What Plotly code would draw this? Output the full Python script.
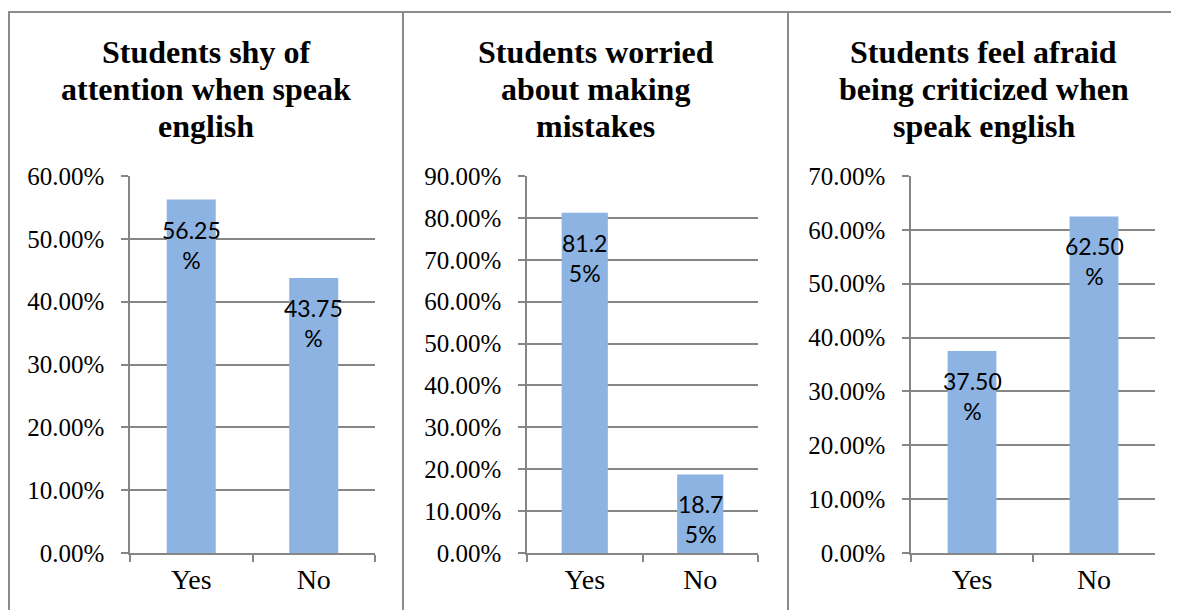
import plotly.graph_objects as go

W, H = 1179, 610
OFF = 8  # page body margin compensation

categories = ["Yes", "No"]
shy_values = [0.5625, 0.4375]
worried_values = [0.8125, 0.1875]
afraid_values = [0.375, 0.625]

shy_labels = ["56.25<br>%", "43.75<br>%"]
worried_labels = ["81.2<br>5%", "18.7<br>5%"]
afraid_labels = ["37.50<br>%", "62.50<br>%"]

titles = [
    ["Students shy of", "attention when speak", "english"],
    ["Students worried", "about making", "mistakes"],
    ["Students feel afraid", "being criticized when", "speak english"],
]
y_max = [0.6, 0.9, 0.7]

panels = [
    (shy_values, shy_labels),
    (worried_values, worried_labels),
    (afraid_values, afraid_labels),
]

BAR = "#8DB3E2"
GRID = "#868686"
BORDER = "#8C8C8C"
SERIF = "Liberation Serif, Times New Roman, serif"

def px_x(p):
    return (p - OFF) / W

def px_y(p):
    return 1 - (p - OFF) / H

x_domains = [(130, 375), (527, 758), (911, 1155)]
panel_centers = [205.5, 595.5, 983.5]
y_dom = [px_y(553), px_y(176)]

fig = go.Figure()
layout = dict(
    width=W, height=H,
    margin=dict(l=0, r=0, t=0, b=0, autoexpand=False),
    paper_bgcolor="white", plot_bgcolor="white",
    showlegend=False,
    bargap=0.6,
    annotations=[], shapes=[],
)

for i, (vals, labels) in enumerate(panels):
    n = "" if i == 0 else str(i + 1)
    xa, ya = "x" + n, "y" + n
    fig.add_trace(go.Bar(
        x=categories, y=vals, marker=dict(color=BAR, line=dict(width=0)),
        xaxis=xa, yaxis=ya, hoverinfo="skip",
    ))
    layout["xaxis" + n] = dict(
        domain=[px_x(x_domains[i][0]), px_x(x_domains[i][1])],
        anchor=ya, type="category", automargin=False,
        showline=True, linecolor=GRID, linewidth=1.5,
        showgrid=False, ticks="outside", ticklen=7, tickcolor=GRID, tickwidth=1.5,
        tickson="boundaries",
        tickfont=dict(family=SERIF, size=28, color="black"),
        ticklabelstandoff=1,
    )
    layout["yaxis" + n] = dict(
        domain=y_dom, anchor=xa, automargin=False,
        range=[0, y_max[i]], dtick=0.1, tickformat=".2%",
        showline=True, linecolor=GRID, linewidth=1.5,
        showgrid=True, gridcolor=GRID, gridwidth=1.5,
        zeroline=False,
        ticks="outside", ticklen=7, tickcolor=GRID, tickwidth=1.5,
        tickfont=dict(family=SERIF, size=25, color="black"),
        ticklabelstandoff=12,
    )
    for c, v, t in zip(categories, vals, labels):
        layout["annotations"].append(dict(
            x=c, y=v, xref=xa, yref=ya, text=t, showarrow=False,
            yanchor="top", xanchor="center", yshift=-14,
            font=dict(family="Lato", size=23, color="black"),
        ))
    for j, line in enumerate(titles[i]):
        layout["annotations"].append(dict(
            x=px_x(panel_centers[i]), y=px_y(52 + 37 * j),
            xref="paper", yref="paper", text="<b>" + line + "</b>",
            showarrow=False, xanchor="center", yanchor="middle",
            font=dict(family=SERIF, size=32, color="black"),
        ))

# panel borders
bx = [9, 403, 788]
layout["shapes"].append(dict(type="line", xref="paper", yref="paper",
                             x0=px_x(8), x1=1, y0=px_y(12), y1=px_y(12),
                             line=dict(color=BORDER, width=2)))
for xb in bx:
    layout["shapes"].append(dict(type="line", xref="paper", yref="paper",
                                 x0=px_x(xb), x1=px_x(xb), y0=px_y(12), y1=0,
                                 line=dict(color=BORDER, width=2)))

fig.update_layout(**layout)
fig.write_html("out.html")
